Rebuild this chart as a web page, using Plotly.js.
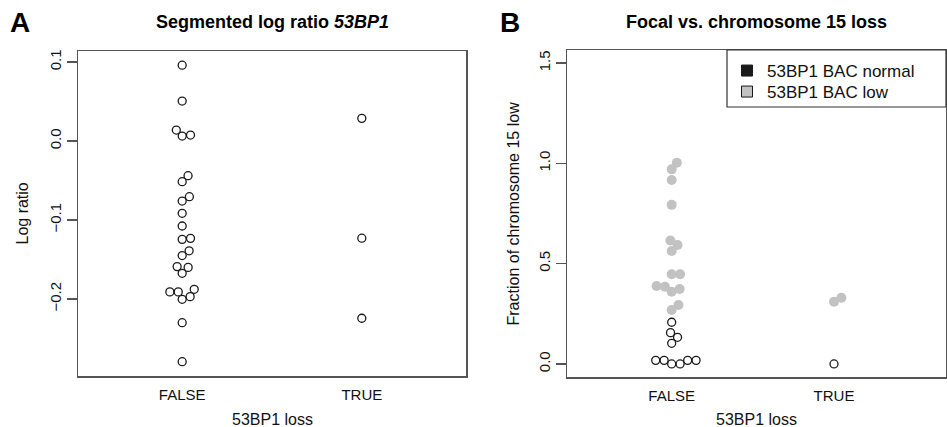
<!DOCTYPE html>
<html><head><meta charset="utf-8">
<script src="https://cdn.plot.ly/plotly-3.0.1.min.js"></script>
<style>html,body{margin:0;padding:0;background:#fff}#chart{width:947px;height:427px}</style>
</head><body><div id="chart"></div>
<script>
// ---------- data ----------
const groups = ['FALSE', 'TRUE'];
// Panel A: segmented log ratio of 53BP1
const logRatioFalse = [0.096, 0.0506, 0.0139, 0.0063, 0.0076, -0.0439, -0.0515, -0.0705, -0.076, -0.0915,
  -0.1076, -0.1245, -0.1232, -0.139, -0.145, -0.159, -0.160, -0.1675, -0.191, -0.191, -0.2004, -0.197,
  -0.1877, -0.230, -0.2794];
const logRatioTrue = [0.0287, -0.123, -0.2244];
// Panel B: fraction of chromosome 15 low, split by 53BP1 BAC status
const fracFalseLow = [1.003, 0.970, 0.917, 0.793, 0.615, 0.593, 0.563, 0.447, 0.447, 0.389, 0.385, 0.374,
  0.360, 0.294, 0.269];
const fracFalseNormal = [0.208, 0.156, 0.133, 0.103, 0.018, 0.018, 0.0, 0.0, 0.018, 0.018];
const fracTrueLow = [0.31, 0.33];
const fracTrueNormal = [0.0];
const yTickValsA = [-0.2, -0.1, 0, 0.1];
const yTickTextA = ['\u22120.2', '\u22120.1', '0.0', '0.1'];
const yTickValsB = [0, 0.5, 1, 1.5];
const yTickTextB = ['0.0', '0.5', '1.0', '1.5'];
const legendLabels = ['53BP1 BAC normal', '53BP1 BAC low'];

// ---------- layout geometry ----------
const W = 947, H = 427;
const boxA = {l: 78, r: 466, t: 51, b: 376};
const boxB = {l: 567, r: 946, t: 50, b: 377};
const xRangeA = [0.42, 2.58];
const yRangeA = [-0.2975, 0.114];
const xRangeB = [0.355, 2.69];
const yRangeB = [-0.065, 1.565];
const px = v => v / W, py = v => 1 - v / H;

const pxPerXA = (boxA.r - boxA.l) / (xRangeA[1] - xRangeA[0]);
const pxPerYA = (boxA.b - boxA.t) / (yRangeA[1] - yRangeA[0]);
const pxPerXB = (boxB.r - boxB.l) / (xRangeB[1] - xRangeB[0]);
const pxPerYB = (boxB.b - boxB.t) / (yRangeB[1] - yRangeB[0]);

// beeswarm ("swarm" method): offsets in pixels, ascending priority
function swarm(vals, pxPerY, d) {
  const idx = vals.map((v, i) => i).sort((a, b) => vals[a] - vals[b]);
  const placed = [];
  const off = new Array(vals.length);
  for (const i of idx) {
    const y = vals[i] * pxPerY;
    const near = placed.filter(p => Math.abs(p.y - y) < d);
    const cands = [0];
    near.forEach(p => cands.push(p.x + Math.sqrt(d * d - (p.y - y) ** 2)));
    near.forEach(p => cands.push(p.x - Math.sqrt(d * d - (p.y - y) ** 2)));
    const ok = cands.filter(c => near.every(p => (p.x - c) ** 2 + (p.y - y) ** 2 >= d * d - 1e-6));
    let best = ok.length ? ok[0] : 0;
    ok.forEach(c => { if (Math.abs(c) < Math.abs(best) - 1e-9) best = c; });
    off[i] = best;
    placed.push({x: best, y: y});
  }
  return off;
}
const D = 8.4;
function swarmX(vals, center, pxPerY, pxPerX) {
  return swarm(vals, pxPerY, D).map(o => center + o / pxPerX);
}

// Panel A positions
const xAF = swarmX(logRatioFalse, 1, pxPerYA, pxPerXA);
const xAT = swarmX(logRatioTrue, 2, pxPerYA, pxPerXA);
// Panel B positions (swarm over whole group, then split by status)
const bF = fracFalseLow.concat(fracFalseNormal);
const xBFall = swarmX(bF, 1, pxPerYB, pxPerXB);
const bT = fracTrueLow.concat(fracTrueNormal);
const xBTall = swarmX(bT, 2, pxPerYB, pxPerXB);

const openMarker = {symbol: 'circle-open', size: 8, color: '#1a1a1a', line: {width: 1.3, color: '#1a1a1a'}};
const grayMarker = {symbol: 'circle', size: 10, color: '#c2c2c2', line: {width: 0}};

const traces = [
  {type: 'scatter', mode: 'markers', x: xAF, y: logRatioFalse, xaxis: 'x', yaxis: 'y', marker: openMarker, showlegend: false, cliponaxis: false},
  {type: 'scatter', mode: 'markers', x: xAT, y: logRatioTrue, xaxis: 'x', yaxis: 'y', marker: openMarker, showlegend: false, cliponaxis: false},
  {type: 'scatter', mode: 'markers', x: xBFall.slice(0, fracFalseLow.length), y: fracFalseLow, xaxis: 'x2', yaxis: 'y2', marker: grayMarker, showlegend: false, cliponaxis: false},
  {type: 'scatter', mode: 'markers', x: xBFall.slice(fracFalseLow.length), y: fracFalseNormal, xaxis: 'x2', yaxis: 'y2', marker: openMarker, showlegend: false, cliponaxis: false},
  {type: 'scatter', mode: 'markers', x: xBTall.slice(0, fracTrueLow.length), y: fracTrueLow, xaxis: 'x2', yaxis: 'y2', marker: grayMarker, showlegend: false, cliponaxis: false},
  {type: 'scatter', mode: 'markers', x: xBTall.slice(fracTrueLow.length), y: fracTrueNormal, xaxis: 'x2', yaxis: 'y2', marker: openMarker, showlegend: false, cliponaxis: false},
  // legend entries
  {type: 'scatter', mode: 'markers', x: [null], y: [null], xaxis: 'x2', yaxis: 'y2', name: legendLabels[0], legend: 'legend',
   marker: {symbol: 'square', size: 11, color: '#1a1a1a', line: {width: 1, color: '#1a1a1a'}}},
  {type: 'scatter', mode: 'markers', x: [null], y: [null], xaxis: 'x2', yaxis: 'y2', name: legendLabels[1], legend: 'legend2',
   marker: {symbol: 'square', size: 11, color: '#c2c2c2', line: {width: 1, color: '#1a1a1a'}}}
];

const axisLine = {showline: true, mirror: true, linecolor: '#555', linewidth: 1.5, zeroline: false, showgrid: false, fixedrange: true};
const tickFont = {family: 'Liberation Sans, Arial, sans-serif', size: 15, color: '#111'};
const legendBase = {x: px(727), xanchor: 'left', yanchor: 'top', bgcolor: 'rgba(0,0,0,0)', borderwidth: 0,
                    font: {size: 17, color: '#111'}, itemclick: false};

const layout = {
  width: W, height: H,
  margin: {l: 0, r: 0, t: 0, b: 0},
  paper_bgcolor: '#fff', plot_bgcolor: '#fff',
  font: {family: 'Liberation Sans, Arial, sans-serif', color: '#111'},
  xaxis: Object.assign({}, axisLine, {domain: [px(boxA.l), px(boxA.r)], range: xRangeA, tickmode: 'array', tickvals: [1, 2], ticktext: groups, ticks: '', tickfont: tickFont, ticklabelstandoff: 4, anchor: 'y'}),
  yaxis: Object.assign({}, axisLine, {domain: [py(boxA.b), py(boxA.t)], range: yRangeA, tickmode: 'array', tickvals: yTickValsA, ticktext: yTickTextA, ticks: 'outside', ticklen: 10, tickwidth: 1.5, tickcolor: '#555', tickangle: -90, tickfont: tickFont, anchor: 'x'}),
  xaxis2: Object.assign({}, axisLine, {domain: [px(boxB.l), px(boxB.r)], range: xRangeB, tickmode: 'array', tickvals: [1, 2], ticktext: groups, ticks: '', tickfont: tickFont, ticklabelstandoff: 4, anchor: 'y2'}),
  yaxis2: Object.assign({}, axisLine, {domain: [py(boxB.b), py(boxB.t)], range: yRangeB, tickmode: 'array', tickvals: yTickValsB, ticktext: yTickTextB, ticks: 'outside', ticklen: 10, tickwidth: 1.5, tickcolor: '#555', tickangle: -90, tickfont: tickFont, anchor: 'x2'}),
  showlegend: true,
  legend: Object.assign({}, legendBase, {y: py(53)}),
  legend2: Object.assign({}, legendBase, {y: py(74)}),
  shapes: [
    {type: 'rect', xref: 'paper', yref: 'paper', x0: px(727), x1: px(946), y0: py(107), y1: py(50),
     line: {color: '#333', width: 1.2}, fillcolor: '#fff', layer: 'above'}
  ],
  annotations: [
    {text: '<b>A</b>', xref: 'paper', yref: 'paper', x: px(8), y: py(23), xanchor: 'left', yanchor: 'middle', showarrow: false, font: {size: 28, color: '#000'}},
    {text: '<b>B</b>', xref: 'paper', yref: 'paper', x: px(498), y: py(23), xanchor: 'left', yanchor: 'middle', showarrow: false, font: {size: 28, color: '#000'}},
    {text: '<b>Segmented log ratio <i>53BP1</i></b>', xref: 'paper', yref: 'paper', x: px((boxA.l + boxA.r) / 2), y: py(22), xanchor: 'center', yanchor: 'middle', showarrow: false, font: {size: 18, color: '#000'}},
    {text: '<b>Focal vs. chromosome 15 loss</b>', xref: 'paper', yref: 'paper', x: px((boxB.l + boxB.r) / 2), y: py(22), xanchor: 'center', yanchor: 'middle', showarrow: false, font: {size: 18, color: '#000'}},
    {text: '53BP1 loss', xref: 'paper', yref: 'paper', x: px((boxA.l + boxA.r) / 2), y: py(419), xanchor: 'center', yanchor: 'middle', showarrow: false, font: {size: 16}},
    {text: '53BP1 loss', xref: 'paper', yref: 'paper', x: px((boxB.l + boxB.r) / 2), y: py(419), xanchor: 'center', yanchor: 'middle', showarrow: false, font: {size: 16}},
    {text: 'Log ratio', textangle: -90, xref: 'paper', yref: 'paper', x: px(22), y: py((boxA.t + boxA.b) / 2), xanchor: 'center', yanchor: 'middle', showarrow: false, font: {size: 16}},
    {text: 'Fraction of chromosome 15 low', textangle: -90, xref: 'paper', yref: 'paper', x: px(513), y: py((boxB.t + boxB.b) / 2), xanchor: 'center', yanchor: 'middle', showarrow: false, font: {size: 16}}
  ]
};

Plotly.newPlot('chart', traces, layout, {staticPlot: true, displayModeBar: false});
</script>
</body></html>
